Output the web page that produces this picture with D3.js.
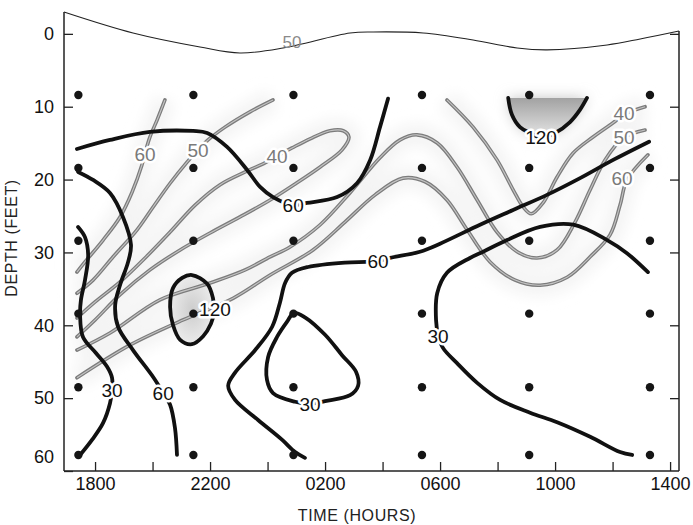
<!DOCTYPE html>
<html>
<head>
<meta charset="utf-8">
<script src="https://cdn.jsdelivr.net/npm/d3@7"></script>
<style>
  body { margin: 0; background: #fff; }
  svg { display: block; }
  text { font-family: "Liberation Sans Narrow", "Liberation Sans", sans-serif; }
</style>
</head>
<body>
<svg id="chart" width="693" height="525"></svg>
<script>
// sampling grid (time in hours after midnight of day 1, depth in feet)
const sampleTimes = [17.42, 21.42, 24.90, 29.37, 33.10, 37.30];
const sampleDepths = [8.4, 18.4, 28.4, 38.4, 48.5, 57.8];

const timeTicks = [18, 20, 22, 24, 26, 28, 30, 32, 34, 36, 38];
const timeTickLabels = { 18: '1800', 22: '2200', 26: '0200', 30: '0600', 34: '1000', 38: '1400' };
const depthTicks = [0, 10, 20, 30, 40, 50, 60];

// water surface
const surface = [[16.92, -3.0], [19.32, -0.12], [21.65, 1.8], [23.04, 2.62], [24.54, 1.94], [26.87, -0.12],
  [27.67, -0.26], [29.41, -0.12], [31.15, 0.84], [32.68, 1.94], [33.72, 2.2], [35.81, 1.52], [36.96, 0.7], [38.31, -0.4]];

// black isolines
const black60a = [[17.37, 15.8], [18.52, 14.56], [19.91, 13.46], [21.41, 13.33], [21.90, 13.6], [22.59, 15.52],
  [23.29, 18.68], [23.74, 21.0], [24.19, 22.4], [24.89, 23.5], [25.37, 23.2], [26.42, 22.4], [27.11, 20.5],
  [27.57, 17.3], [27.91, 12.8], [28.19, 8.9]];
const black60b = [[17.41, 18.95], [17.93, 20.05], [18.52, 21.84], [18.97, 25.13], [19.25, 28.97], [19.15, 31.3],
  [18.87, 34.46], [18.70, 37.2], [18.80, 40.2], [19.32, 43.4], [20.02, 47.1], [20.37, 49.3], [20.61, 50.9],
  [20.78, 54.1], [20.85, 57.8]];
const black30a = [[17.41, 26.5], [17.65, 27.9], [17.76, 30.35], [17.65, 33.8], [17.51, 36.5], [17.48, 38.6],
  [17.58, 41.6], [18.03, 43.8], [18.42, 45.7], [18.59, 47.2], [18.59, 48.9], [18.52, 50.7], [18.28, 53.4],
  [17.9, 55.7], [17.48, 57.8]];
const black120a = [[21.37, 33.1], [21.90, 34.3], [22.1, 36.25], [22.14, 38.17], [22.03, 39.8], [21.76, 41.5],
  [21.37, 42.6], [20.96, 42.0], [20.71, 39.95], [20.61, 37.5], [20.71, 34.9], [21.03, 33.5]];
const black60c = [[25.30, 58.2], [24.96, 57.4], [24.50, 55.7], [23.67, 53.0], [22.87, 50.25], [22.63, 48.3],
  [22.87, 46.5], [23.57, 43.4], [24.16, 40.2], [24.43, 36.9], [24.61, 34.2], [24.85, 32.8], [25.41, 32.0],
  [26.70, 31.4], [27.43, 31.3], [27.84, 31.2], [28.26, 30.75], [29.30, 29.9], [30.0, 28.8], [31.39, 26.2],
  [32.54, 24.17], [33.72, 22.1], [34.87, 19.8], [36.02, 17.3], [37.27, 14.8]];
const black30b = [[24.92, 38.3], [25.30, 38.9], [26.0, 41.3], [26.59, 44.1], [27.08, 46.4], [27.15, 48.3],
  [26.87, 49.6], [26.0, 50.4], [25.48, 50.8], [24.96, 50.5], [24.19, 49.3], [23.98, 47.5], [24.02, 44.35],
  [24.33, 41.6], [24.68, 39.5]];
const black30c = [[36.68, 57.8], [36.26, 57.4], [35.22, 55.3], [34.07, 53.3], [33.13, 52.0], [32.09, 50.25],
  [31.29, 47.9], [30.59, 45.2], [30.10, 43.1], [29.93, 41.3], [29.86, 39.3], [29.90, 35.6], [30.24, 32.8],
  [31.04, 30.76], [31.50, 29.9], [32.33, 28.3], [33.48, 26.5], [34.63, 26.2], [35.81, 28.3], [36.50, 30.1],
  [37.23, 32.7]];
const black120b = [[32.37, 8.8], [32.50, 11.1], [32.78, 12.8], [33.13, 13.6], [33.51, 14.2], [34.0, 13.6],
  [34.52, 12.1], [34.87, 10.4], [35.11, 8.8]];

// gray isolines
const gray60a = [[20.43, 9.07], [20.16, 11.8], [19.91, 14.15], [19.74, 16.35], [19.63, 18.0], [19.29, 21.7],
  [18.87, 25.13], [18.28, 28.3], [17.65, 31.3], [17.37, 32.7]];
const gray50a = [[24.19, 9.07], [23.39, 10.7], [22.52, 12.8], [21.93, 14.56], [21.58, 15.93], [21.2, 17.6],
  [20.61, 20.5], [20.02, 23.76], [19.46, 26.9], [18.63, 30.6], [17.93, 33.8], [17.37, 35.6]];
const gray40a = [[17.37, 39.0], [18.0, 36.8], [18.87, 34.05], [19.74, 30.76], [20.61, 27.2], [21.48, 23.5],
  [22.35, 20.7], [23.22, 18.95], [23.91, 17.7], [24.33, 16.76], [24.85, 15.66], [25.48, 14.4], [26.17, 13.3],
  [26.63, 13.3], [26.83, 14.15], [26.59, 15.93], [25.83, 18.27], [24.96, 20.6], [24.09, 22.8], [23.04, 25.13],
  [22.0, 27.33], [20.96, 29.66], [19.91, 32.4], [18.87, 35.8], [18.0, 39.27], [17.37, 41.6]];
const gray50b = [[17.37, 43.4], [18.52, 41.05], [20.26, 36.5], [22.0, 34.2], [23.22, 32.4], [24.09, 30.6],
  [24.78, 29.25], [25.83, 26.2], [26.87, 21.8], [27.91, 17.0], [28.61, 14.56], [29.2, 13.86], [29.9, 14.97],
  [30.59, 18.27], [31.29, 22.8], [31.98, 27.2], [32.68, 29.9], [33.37, 30.76], [34.07, 29.66], [34.70, 25.8],
  [35.22, 21.4], [35.74, 17.3], [36.37, 14.3], [37.13, 13.2]];
const gray60b = [[17.37, 47.2], [19.22, 42.7], [21.06, 39.27], [22.80, 36.3], [24.09, 33.1], [25.58, 29.66],
  [26.70, 25.8], [27.74, 22.1], [28.71, 19.8], [29.48, 20.3], [30.24, 22.8], [30.94, 26.9], [31.74, 31.3],
  [32.61, 33.8], [33.48, 34.5], [34.42, 33.4], [35.22, 30.6], [35.91, 27.6], [36.26, 23.5], [36.50, 20.05],
  [37.23, 16.6]];
const gray40b = [[30.24, 9.07], [31.15, 12.8], [31.98, 17.3], [32.54, 21.4], [32.89, 23.76], [33.17, 24.7],
  [33.58, 23.2], [34.07, 19.64], [34.63, 16.35], [35.32, 14.15], [36.02, 12.2], [36.43, 11.0], [37.13, 10.0]];

// isoline labels: [text, hour, depth]
const blackLabels = [['60', 24.89, 23.5], ['60', 20.37, 49.3], ['30', 18.59, 48.9], ['120', 22.17, 37.8],
  ['60', 27.84, 31.2], ['30', 25.48, 50.8], ['30', 29.93, 41.5], ['120', 33.51, 14.2]];
const grayLabels = [['60', 19.74, 16.5], ['50', 21.58, 15.93], ['40', 24.33, 16.76],
  ['40', 36.40, 10.85], ['50', 36.40, 14.15], ['60', 36.33, 19.8]];
const surfaceLabel = ['50', 24.85, 1.1];

const svg = d3.select('#chart');
const x = d3.scaleLinear().domain([16.92, 38.31]).range([64, 679]);
const y = d3.scaleLinear().domain([-3, 60]).range([12, 471]);

const defs = svg.append('defs');
defs.append('filter').attr('id', 'haze').attr('x', '-30%').attr('y', '-30%').attr('width', '160%').attr('height', '160%')
  .append('feGaussianBlur').attr('stdDeviation', 7);
const cupGrad = defs.append('linearGradient').attr('id', 'cup').attr('x1', 0).attr('y1', 0).attr('x2', 0).attr('y2', 1);
cupGrad.append('stop').attr('offset', '0%').attr('stop-color', '#a2a2a2');
cupGrad.append('stop').attr('offset', '100%').attr('stop-color', '#e6e6e6');
const eggGrad = defs.append('radialGradient').attr('id', 'egg');
eggGrad.append('stop').attr('offset', '0%').attr('stop-color', '#cdcdcd');
eggGrad.append('stop').attr('offset', '100%').attr('stop-color', '#ebebeb');

const line = d3.line().x(d => x(d[0])).y(d => y(d[1])).curve(d3.curveCatmullRom.alpha(0.5));
const loop = d3.line().x(d => x(d[0])).y(d => y(d[1])).curve(d3.curveCatmullRomClosed.alpha(0.5));

const grayLines = [gray60a, gray50a, gray40a, gray50b, gray60b, gray40b];
const blackOpen = [black60a, black60b, black30a, black60c, black30c, black120b];
const blackLoops = [black120a, black30b];

// faint scan haze behind the gray isolines
const haze = svg.append('g').attr('filter', 'url(#haze)');
grayLines.forEach(d => {
  haze.append('path').attr('d', line(d)).attr('fill', 'none').attr('stroke', '#f4f4f4').attr('stroke-width', 22);
});
haze.append('path').attr('d', line(black120b) + 'Z').attr('fill', '#c4c4c4');

// shaded 120 regions
svg.append('path').attr('d', line(black120b) + 'Z').attr('fill', 'url(#cup)');
svg.append('path').attr('d', loop(black120a)).attr('fill', 'url(#egg)');

// gray isolines drawn as double lines
grayLines.forEach(d => {
  svg.append('path').attr('d', line(d)).attr('fill', 'none')
    .attr('stroke', '#7c7c7c').attr('stroke-width', 3.6).attr('stroke-linecap', 'round');
  svg.append('path').attr('d', line(d)).attr('fill', 'none')
    .attr('stroke', '#c4c4c4').attr('stroke-width', 1.1);
});

// black isolines
blackOpen.forEach(d => {
  svg.append('path').attr('d', line(d)).attr('fill', 'none')
    .attr('stroke', '#111').attr('stroke-width', 3.8).attr('stroke-linecap', 'round');
});
blackLoops.forEach(d => {
  svg.append('path').attr('d', loop(d)).attr('fill', 'none')
    .attr('stroke', '#111').attr('stroke-width', 3.8);
});

// surface line
svg.append('path').attr('d', line(surface)).attr('fill', 'none').attr('stroke', '#222').attr('stroke-width', 1.1);

// sampling stations
sampleDepths.forEach(dep => {
  sampleTimes.forEach(t => {
    svg.append('circle').attr('cx', x(t)).attr('cy', y(dep)).attr('r', 4.2).attr('fill', '#151515');
  });
});

// spines
const frame = svg.append('g').attr('stroke', '#222').attr('stroke-width', 1.5).attr('fill', 'none');
frame.append('line').attr('x1', x(16.92)).attr('x2', x(16.92)).attr('y1', y(-3)).attr('y2', y(60));
frame.append('line').attr('x1', x(16.92)).attr('x2', x(38.31)).attr('y1', y(60)).attr('y2', y(60));
frame.append('line').attr('x1', x(38.31)).attr('x2', x(38.31)).attr('y1', y(-0.4)).attr('y2', y(60));

// axes
const gx = svg.append('g').attr('transform', `translate(0,${y(60)})`)
  .call(d3.axisBottom(x).tickValues(timeTicks).tickSize(-9).tickPadding(6)
    .tickFormat(d => timeTickLabels[d] || ''));
const gy = svg.append('g').attr('transform', `translate(${x(16.92)},0)`)
  .call(d3.axisLeft(y).tickValues(depthTicks).tickSize(-9).tickPadding(10));
const gr = svg.append('g').attr('transform', `translate(${x(38.31)},0)`)
  .call(d3.axisRight(y).tickValues([0, 10, 20, 30, 40, 50]).tickSize(-9).tickFormat(''));
[gx, gy, gr].forEach(g => {
  g.select('.domain').remove();
  g.selectAll('.tick line').attr('stroke', '#222').attr('stroke-width', 1.3);
  g.selectAll('.tick text').attr('fill', '#111').attr('font-size', 18)
    .attr('font-family', '"Liberation Sans Narrow", "Liberation Sans", sans-serif');
});
gy.selectAll('.tick text').filter(d => d === 60).attr('dy', '-0.5em');

// isoline labels
const labelStyle = (sel, color) => sel
  .attr('text-anchor', 'middle').attr('dy', '0.36em').attr('font-size', 19).attr('fill', color)
  .attr('stroke', '#fff').attr('stroke-width', 5).attr('paint-order', 'stroke').attr('stroke-linejoin', 'round');
blackLabels.forEach(([t, h, d]) => {
  labelStyle(svg.append('text').attr('x', x(h)).attr('y', y(d)).text(t), '#111');
});
grayLabels.forEach(([t, h, d]) => {
  labelStyle(svg.append('text').attr('x', x(h)).attr('y', y(d)).text(t), '#7a7a7a');
});
svg.append('text').attr('x', x(surfaceLabel[1])).attr('y', y(surfaceLabel[2])).attr('dy', '0.36em')
  .attr('text-anchor', 'middle').attr('font-size', 17).attr('fill', '#8a8a8a').text(surfaceLabel[0]);

// axis titles
svg.append('text').attr('x', 357).attr('y', 521).attr('text-anchor', 'middle')
  .attr('font-family', '"Liberation Sans", sans-serif').attr('font-size', 16).attr('letter-spacing', 0.6)
  .attr('fill', '#222').text('TIME (HOURS)');
svg.append('text').attr('transform', 'translate(17,238) rotate(-90)').attr('text-anchor', 'middle')
  .attr('font-family', '"Liberation Sans", sans-serif').attr('font-size', 16).attr('letter-spacing', 0.6)
  .attr('fill', '#222').text('DEPTH (FEET)');
</script>
</body>
</html>
